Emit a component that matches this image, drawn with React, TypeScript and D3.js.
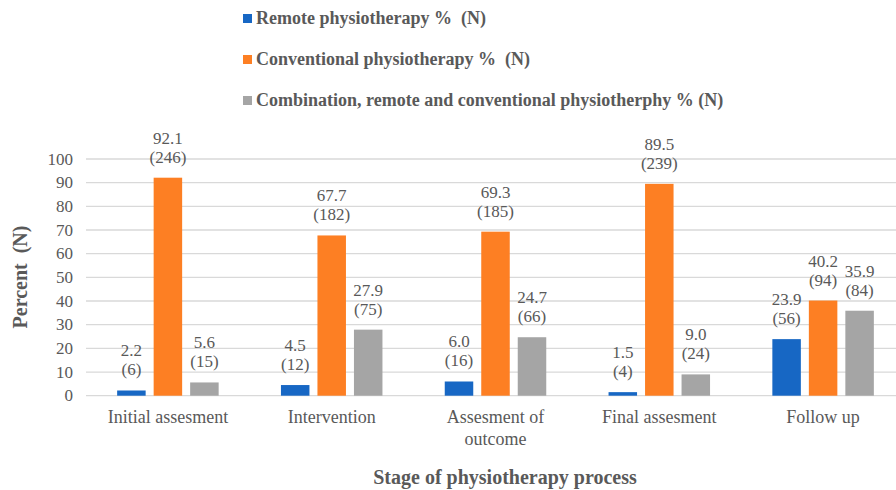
import React from "react";
import * as d3 from "d3";

const categories = ["Initial assesment", "Intervention", "Assesment of|outcome", "Final assesment", "Follow up"];
const seriesNames = [
  "Remote physiotherapy %  (N)",
  "Conventional physiotherapy %  (N)",
  "Combination, remote and conventional physiotherphy % (N)",
];
const remotePct = [2.2, 4.5, 6.0, 1.5, 23.9];
const remoteN = [6, 12, 16, 4, 56];
const conventionalPct = [92.1, 67.7, 69.3, 89.5, 40.2];
const conventionalN = [246, 182, 185, 239, 94];
const combinationPct = [5.6, 27.9, 24.7, 9.0, 35.9];
const combinationN = [15, 75, 66, 24, 84];
const yTicks = [0, 10, 20, 30, 40, 50, 60, 70, 80, 90, 100];

const colors = ["#1767c4", "#fd7f23", "#a5a5a5"];
const textColor = "#595959";
const font = "'Liberation Serif', 'Times New Roman', serif";

export default function App() {
  const width = 896;
  const height = 490;
  const series = [
    { pct: remotePct, n: remoteN },
    { pct: conventionalPct, n: conventionalN },
    { pct: combinationPct, n: combinationN },
  ];

  const x = d3.scaleBand().domain(categories).range([86, 905]).paddingInner(0).paddingOuter(0);
  const y = d3.scaleLinear().domain([0, 100]).range([395.7, 159]);
  const barW = 28.5;
  const step = 36.5;

  return (
    <svg width={width} height={height} style={{ position: "absolute", left: 0, top: 0, fontFamily: font }}>
      {/* legend */}
      {seriesNames.map((name, i) => (
        <g key={name} transform={`translate(243, ${24 + i * 41})`}>
          <rect x={0} y={-10} width={9} height={9} fill={colors[i]} />
          <text x={13} y={0} fontSize={18} fontWeight="bold" fill={textColor} style={{ whiteSpace: "pre" }}>
            {name}
          </text>
        </g>
      ))}

      {/* gridlines + ticks */}
      {yTicks.map((t) => (
        <g key={t}>
          <line x1={86} x2={width} y1={y(t)} y2={y(t)} stroke="#d9d9d9" strokeWidth={1.3} />
          <text x={73} y={y(t) + 5.5} textAnchor="end" fontSize={17} fill={textColor}>
            {t}
          </text>
        </g>
      ))}

      {/* bars */}
      {categories.map((c, ci) => {
        const cx = (x(c) as number) + x.bandwidth() / 2;
        return (
          <g key={c}>
            {series.map((s, si) => {
              const bx = cx + (si - 1) * step - barW / 2;
              const top = y(s.pct[ci]);
              return (
                <g key={si}>
                  <rect x={bx} y={top} width={barW} height={y(0) - top} fill={colors[si]} />
                  <text x={bx + barW / 2} y={top - 34} textAnchor="middle" fontSize={17} fill={textColor}>
                    {s.pct[ci].toFixed(1)}
                  </text>
                  <text x={bx + barW / 2} y={top - 15} textAnchor="middle" fontSize={17} fill={textColor}>
                    ({s.n[ci]})
                  </text>
                </g>
              );
            })}
            {c.split("|").map((line, li) => (
              <text key={li} x={cx} y={423 + li * 22} textAnchor="middle" fontSize={18} fill={textColor}>
                {line}
              </text>
            ))}
          </g>
        );
      })}

      {/* axis titles */}
      <text
        transform={`translate(27, 277) rotate(-90)`}
        textAnchor="middle"
        fontSize={20}
        fontWeight="bold"
        fill={textColor}
        style={{ whiteSpace: "pre" }}
      >
        Percent  (N)
      </text>
      <text x={505} y={484} textAnchor="middle" fontSize={20} fontWeight="bold" fill={textColor}>
        Stage of physiotherapy process
      </text>
    </svg>
  );
}
